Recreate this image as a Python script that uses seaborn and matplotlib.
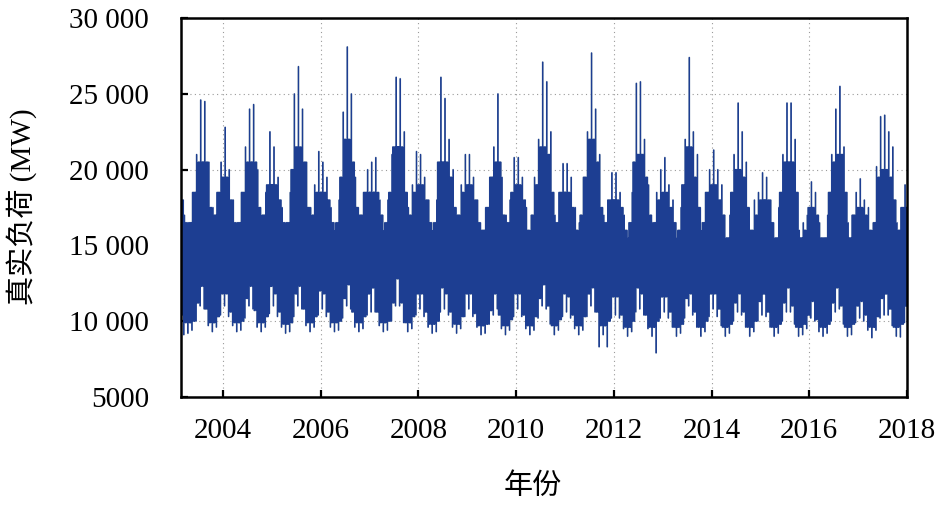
import numpy as np
import pandas as pd
import matplotlib
matplotlib.use("Agg")
import matplotlib.pyplot as plt
import seaborn as sns

# Monthly envelope of hourly load (MW), Feb 2003 - Dec 2017
# peak: highest spike in month; upper/lower: edges of dense band; trough: lowest dip
peak = [
    19800, 17000, 16500, 18500, 21000, 24600, 24500, 20500, 17500, 18500, 20500,          # 2003
    22800, 20000, 18000, 16500, 18500, 21500, 24000, 24300, 20000, 17000, 18500, 22500,   # 2004
    21500, 19500, 17500, 16500, 18500, 25000, 26800, 24000, 20500, 17500, 19000, 21200,   # 2005
    20500, 19500, 17500, 16000, 18000, 23800, 28100, 25000, 19500, 17000, 18500, 20000,   # 2006
    20500, 20800, 18000, 16000, 18000, 21000, 26100, 26000, 22500, 17500, 19000, 21200,   # 2007
    21000, 19500, 18000, 16000, 18000, 26100, 24700, 22000, 20000, 17000, 19000, 21000,   # 2008
    21000, 19500, 18000, 16000, 17500, 19500, 21500, 25000, 19500, 17000, 18000, 20800,   # 2009
    20800, 19500, 17500, 16000, 19500, 22000, 27100, 25800, 22500, 17000, 18500, 20400,   # 2010
    20400, 19500, 17500, 16500, 19500, 22500, 27700, 24000, 21000, 17000, 18000, 19800,   # 2011
    19800, 18500, 17000, 15500, 18500, 25700, 25800, 22000, 19000, 16500, 18500, 20000,   # 2012
    20800, 19000, 18000, 15500, 17500, 22000, 27400, 22500, 21000, 16000, 18500, 20000,   # 2013
    21300, 20000, 19000, 15500, 17000, 21000, 24400, 22500, 20500, 16000, 18000, 18500,   # 2014
    19800, 19500, 18000, 15500, 17500, 21000, 24400, 24400, 22000, 16000, 16500, 17000,   # 2015
    19200, 18500, 16500, 15500, 17000, 21000, 24000, 25500, 21500, 16500, 17000, 18500,   # 2016
    19400, 18000, 17500, 16000, 20200, 23500, 23600, 22500, 21500, 16500, 17500, 19000,   # 2017
]
upper = [
    18000, 16500, 16000, 16500, 18500, 20500, 20500, 17500, 16500, 17000, 18500,
    19500, 18000, 16500, 16000, 16500, 18500, 20500, 20500, 17500, 16000, 17000, 19000,
    19000, 18000, 16500, 15500, 16500, 20000, 21500, 20500, 17500, 16000, 17000, 18500,
    18500, 18000, 16500, 15500, 16500, 19500, 22000, 20500, 17500, 16000, 17000, 18500,
    18500, 18500, 17000, 15500, 16500, 18500, 21500, 21500, 18500, 16000, 17000, 18500,
    19000, 18000, 16500, 15500, 16500, 20500, 20500, 19500, 17500, 16000, 17000, 18500,
    19000, 18000, 16500, 15000, 16000, 17500, 19500, 20500, 17000, 15500, 16500, 18500,
    19000, 18000, 16000, 15000, 17000, 19000, 21500, 21000, 18500, 15500, 16500, 18500,
    18500, 17500, 16000, 15000, 17000, 19500, 22000, 20500, 17500, 15500, 16500, 18000,
    18000, 17500, 16000, 14500, 16500, 20500, 21000, 19500, 17000, 15000, 16500, 18000,
    18500, 17500, 16500, 14500, 16000, 19000, 21500, 19500, 17500, 15000, 16500, 18500,
    19000, 18000, 17000, 14500, 15500, 18500, 20000, 19500, 17500, 15000, 16000, 17000,
    18000, 18000, 16500, 14500, 15500, 18500, 20500, 20500, 18500, 15000, 15500, 16000,
    17500, 17000, 15500, 14500, 15500, 18500, 20500, 21000, 18500, 15000, 15500, 17000,
    17500, 17000, 16000, 14500, 16500, 19500, 20000, 19500, 18000, 15000, 16000, 17500,
]
lower = [
    11600, 10400, 9900, 10000, 11200, 12500, 12300, 10800, 9900, 10300, 11800,
    12800, 11800, 10600, 9900, 10000, 11500, 12800, 12300, 10700, 9900, 10300, 12300,
    12800, 11800, 10600, 9800, 9900, 11800, 12800, 12300, 10800, 9900, 10300, 12000,
    12500, 11800, 10600, 9900, 10000, 11500, 12900, 12400, 10600, 9900, 10300, 11800,
    12200, 12200, 10600, 9900, 10000, 11200, 12800, 12800, 11200, 9900, 10300, 11800,
    12500, 11800, 10600, 9800, 10000, 12200, 12500, 11800, 10600, 9800, 10300, 11800,
    12500, 11800, 10500, 9700, 9800, 10700, 11800, 12400, 10400, 9700, 10100, 11800,
    12400, 11800, 10400, 9700, 10300, 11500, 12800, 12400, 11000, 9700, 10100, 11800,
    12200, 11600, 10400, 9700, 10300, 11800, 12800, 12200, 10600, 9700, 10000, 11600,
    11800, 11600, 10400, 9600, 10000, 12200, 12500, 11800, 10400, 9600, 10000, 11600,
    12200, 11600, 10600, 9600, 9800, 11500, 12800, 11800, 10600, 9600, 10000, 11800,
    12500, 11800, 10800, 9600, 9800, 11200, 12200, 11800, 10600, 9600, 10000, 11300,
    11800, 11800, 10600, 9600, 9800, 11200, 12200, 12200, 11000, 9600, 9800, 10400,
    11600, 11300, 10100, 9600, 9800, 11200, 12200, 12400, 11000, 9600, 9800, 11000,
    11600, 11300, 10400, 9600, 10300, 11500, 11800, 11800, 10800, 9600, 9800, 11000,
]
trough = [
    9600, 9100, 9200, 9400, 10000, 11000, 10800, 9700, 9300, 9600, 10400,
    11000, 10300, 9700, 9300, 9400, 10200, 11000, 10800, 9600, 9300, 9600, 10500,
    11000, 10300, 9600, 9200, 9300, 10300, 11000, 10800, 9700, 9300, 9600, 10400,
    10800, 10300, 9600, 9300, 9400, 10200, 11000, 10800, 9600, 9300, 9500, 10400,
    10600, 10600, 9700, 9300, 9400, 10000, 11000, 11000, 9900, 9300, 9500, 10400,
    10800, 10300, 9600, 9200, 9300, 10600, 10800, 10400, 9600, 9200, 9500, 10300,
    10800, 10300, 9600, 9100, 9200, 9800, 10400, 10800, 9500, 9100, 9400, 10300,
    10800, 10300, 9500, 9100, 9400, 10200, 11000, 10800, 9800, 9100, 9400, 10300,
    10600, 10200, 9500, 9100, 9400, 10300, 11000, 10600, 8300, 9100, 8300, 10200,
    10400, 10200, 9500, 9000, 9300, 10600, 10800, 10400, 9500, 9000, 7900, 10200,
    10600, 10200, 9600, 9000, 9200, 10200, 11000, 10400, 9600, 9000, 9300, 10300,
    10800, 10300, 9700, 9000, 9200, 10000, 10600, 10400, 9600, 9000, 9300, 10000,
    10400, 10300, 9600, 9000, 9200, 10000, 10600, 10600, 9800, 9000, 9100, 9500,
    10200, 10000, 9300, 9000, 9200, 10000, 10600, 10800, 9800, 9000, 9100, 9900,
    10200, 10000, 9400, 8900, 9400, 10200, 10400, 10400, 9700, 9000, 8950, 9900,
]

x_ticks = [2004, 2006, 2008, 2010, 2012, 2014, 2016, 2018]
y_ticks = [5000, 10000, 15000, 20000, 25000, 30000]
y_tick_labels = ["5000", "10 000", "15 000", "20 000", "25 000", "30 000"]
x_label = "年份"
y_label = "真实负荷 (MW)"

# zig-zag trace inside each month built from the envelope values
def neighbours(a):
    a = np.asarray(a, dtype=float)
    return np.r_[a[0], a[:-1]], a, np.r_[a[1:], a[-1]]

up_p, up, up_n = neighbours(upper)
lo_p, lo, lo_n = neighbours(lower)
pk = np.asarray(peak, dtype=float)
tr = np.asarray(trough, dtype=float)
order = [up_p, lo_p, up, lo, up_p, lo, up, tr,
         up, lo, pk, lo, up, lo_n, up_n, lo,
         up, lo_n, up_n, lo]
vals = np.stack(order, axis=1).ravel()
n_months = len(peak)
month_start = 2003 + 1 / 12 + np.arange(n_months) / 12
k = len(order)
offs = (np.arange(k) + 0.5) / k / 12
xs = (month_start[:, None] + offs[None, :]).ravel()
df = pd.DataFrame({"year": xs, "load": vals})

sns.set_theme(style="white")
plt.rcParams["font.family"] = ["Liberation Serif", "Noto Sans CJK SC"]

fig = plt.figure(figsize=(9.45, 5.07), dpi=100)
ax = fig.add_axes([181 / 945, 1 - 397 / 507, 726 / 945, 379 / 507])

sns.lineplot(data=df, x="year", y="load", color="#97a8c2", lw=1.2,
             estimator=None, sort=False, ax=ax)
sns.lineplot(data=df, x="year", y="load", color="#1d3e92", lw=0.55,
             estimator=None, sort=False, ax=ax)

ax.set_xlim(2003.14, 2018.0)
ax.set_ylim(5000, 30000)
ax.set_xticks(x_ticks)
ax.set_xticklabels([str(t) for t in x_ticks])
ax.set_yticks(y_ticks)
ax.set_yticklabels(y_tick_labels)
ax.set_xlabel("")
ax.set_ylabel("")

ax.grid(True, linestyle=(0, (1, 3)), color="#9a9a9a", lw=0.8)
ax.set_axisbelow(True)

for s in ax.spines.values():
    s.set_visible(True)
    s.set_color("black")
    s.set_linewidth(1.8)

ax.tick_params(axis="both", direction="in", length=5, width=1.6, color="black",
               labelsize=21, labelcolor="black", top=False, right=False,
               left=True, bottom=True)
ax.tick_params(axis="y", pad=23)
ax.tick_params(axis="x", pad=15)

fig.text(22 / 945, 1 - 207 / 507, y_label, rotation=90, ha="center", va="center",
         fontsize=21, color="black")
fig.text(533 / 945, 1 - 487 / 507, x_label, ha="center", va="center",
         fontsize=21, color="black")

fig.savefig("out.png", dpi=100)
